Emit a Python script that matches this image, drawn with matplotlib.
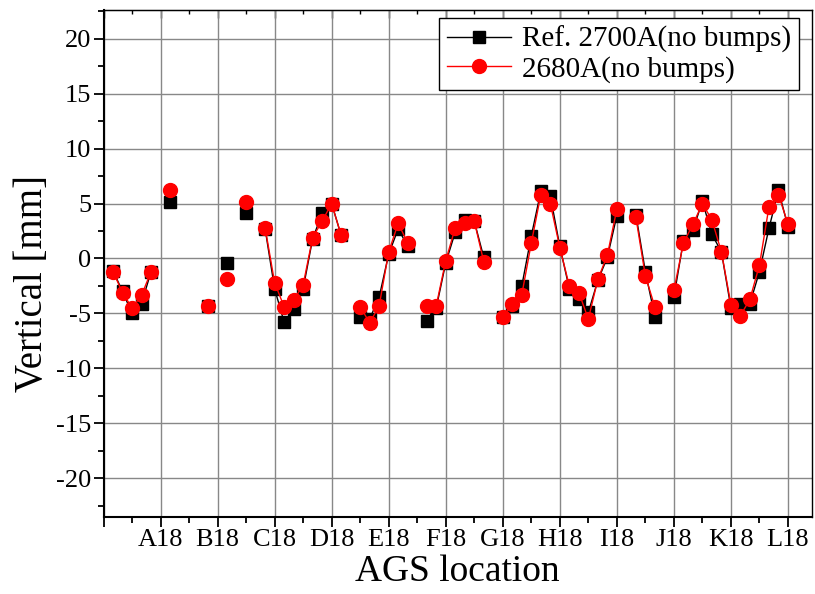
import numpy as np
import matplotlib
matplotlib.use("Agg")
import matplotlib.pyplot as plt
from matplotlib.ticker import MultipleLocator

plt.rcParams['font.family'] = ['Liberation Serif', 'DejaVu Serif']
plt.rcParams['axes.unicode_minus'] = False

nan = np.nan
# slot index along the ring, 6 slots per superperiod (A18 = 6, B18 = 12, ...)
pos = np.arange(1, 73)
ref_2700 = [-1.1, -3.0, -5.0, -4.1, -1.2, nan, 5.1, nan, nan, nan,
            -4.35, nan, -0.4, nan, 4.1, nan, 2.7, -2.75, -5.8, -4.6,
            -2.75, 1.8, 4.1, 5.0, 2.1, nan, -5.3, -5.5, -3.5, 0.4,
            2.7, 1.1, nan, -5.7, -4.5, -0.4, 2.4, 3.5, 3.4, 0.1,
            nan, -5.3, -4.3, -2.5, 2.05, 6.1, 5.7, 1.1, -2.75, -3.7,
            -4.9, -2.0, 0.1, 3.9, nan, 4.0, -1.2, -5.3, nan, -3.5,
            1.6, 2.6, 5.2, 2.2, 0.6, -4.5, -4.1, -4.1, -1.2, 2.75,
            6.2, 2.9]
run_2680 = [-1.2, -3.1, -4.5, -3.35, -1.2, nan, 6.2, nan, nan, nan,
            -4.3, nan, -1.85, nan, 5.1, nan, 2.8, -2.2, -4.4, -3.8,
            -2.4, 1.9, 3.4, 5.0, 2.1, nan, -4.4, -5.85, -4.3, 0.6,
            3.2, 1.4, nan, -4.3, -4.3, -0.2, 2.8, 3.2, 3.4, -0.3,
            nan, -5.3, -4.1, -3.3, 1.4, 5.8, 5.0, 1.0, -2.5, -3.1,
            -5.5, -1.9, 0.3, 4.5, nan, 3.75, -1.6, -4.4, nan, -2.9,
            1.4, 3.1, 5.0, 3.5, 0.6, -4.2, -5.2, -3.7, -0.6, 4.7,
            5.8, 3.15]
tick_pos = [0, 6, 12, 18, 24, 30, 36, 42, 48, 54, 60, 66, 72]
tick_lab = ['', 'A18', 'B18', 'C18', 'D18', 'E18', 'F18', 'G18', 'H18',
            'I18', 'J18', 'K18', 'L18']

fig = plt.figure(figsize=(8.15, 5.94), dpi=100)
ax = fig.add_axes([0.127, 0.130, 0.869, 0.853])

ax.plot(pos, ref_2700, '-s', color='black', lw=1, ms=8.5,
        label='Ref. 2700A(no bumps)')
ax.plot(pos, run_2680, '-o', color='red', lw=1, ms=10,
        label='2680A(no bumps)')

ax.set_xlim(0, 74.5)
ax.set_ylim(-23.5, 22.6)
ax.set_xticks(tick_pos)
ax.set_xticklabels(tick_lab)
ax.xaxis.set_minor_locator(MultipleLocator(3))
ax.yaxis.set_major_locator(MultipleLocator(5))
ax.yaxis.set_minor_locator(MultipleLocator(2.5))
ax.grid(True, which='major', color='#888888', lw=1)
ax.tick_params(which='both', direction='out', labelsize=19, width=1.3)
ax.tick_params(which='major', length=7, pad=2)
ax.tick_params(which='minor', length=4)
for side in ['left', 'bottom']:
    ax.spines[side].set_linewidth(1.5)
for side in ['top', 'right']:
    ax.spines[side].set_linewidth(1)

# inward ticks along the top edge
top = ax.secondary_xaxis('top')
top.set_xticks(tick_pos)
top.set_xticklabels([])
top.xaxis.set_minor_locator(MultipleLocator(3))
top.tick_params(which='both', direction='in', width=1)
top.tick_params(which='major', length=6)
top.tick_params(which='minor', length=3)

ax.set_xlabel('AGS location', fontsize=27, labelpad=2)
ax.set_ylabel('Vertical [mm]', fontsize=28)
ax.yaxis.set_label_coords(-0.074, 0.46)

leg = ax.legend(loc='upper right', fontsize=21, handlelength=2.2,
                fancybox=False, edgecolor='black', framealpha=1,
                borderpad=0.25, labelspacing=0.1, handletextpad=0.4,
                borderaxespad=0.2, bbox_to_anchor=(0.99, 0.995))
leg.get_frame().set_linewidth(1)

fig.savefig('out.png', dpi=100)
